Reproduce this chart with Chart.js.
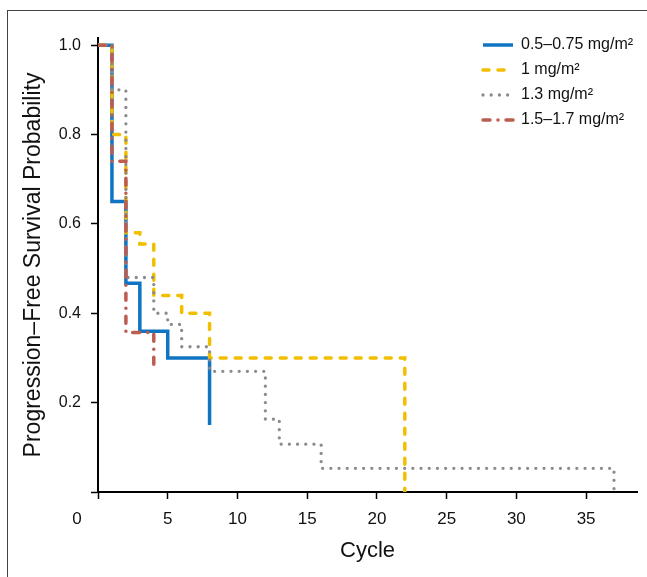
<!DOCTYPE html>
<html>
<head>
<meta charset="utf-8">
<script src="https://cdn.jsdelivr.net/npm/chart.js@4.4.1/dist/chart.umd.min.js"></script>
<style>
  html, body { margin: 0; padding: 0; background: #fff; overflow: hidden; }
  #frame { position: absolute; left: 7px; top: 10px; width: 800px; height: 700px; border-left: 1.5px solid #444; border-top: 1.5px solid #444; }
  #wrap { position: absolute; left: 0; top: 0; width: 647px; height: 577px; }
</style>
</head>
<body>
<div id="frame"></div>
<div id="wrap"><canvas id="pfsChart" width="647" height="577"></canvas></div>
<script>
// Kaplan-Meier steps: cycle of each drop and survival after it
const doseLabels = ["0.5\u20130.75 mg/m\u00b2", "1 mg/m\u00b2", "1.3 mg/m\u00b2", "1.5\u20131.7 mg/m\u00b2"];

const lowCycles = [0, 1, 2, 3, 5, 8];
const lowSurvival = [1.0, 0.65, 0.467, 0.36, 0.30, 0.15];

const oneCycles = [0, 1, 2, 3, 4, 6, 8, 22];
const oneSurvival = [1.0, 0.80, 0.58, 0.555, 0.44, 0.40, 0.30, 0];

const midCycles = [0, 1, 2, 4, 5, 6, 8, 12, 13, 16, 37];
const midSurvival = [1.0, 0.90, 0.48, 0.40, 0.375, 0.325, 0.27, 0.163, 0.107, 0.053, 0];

const highCycles = [0, 1, 2, 4];
const highSurvival = [1.0, 0.74, 0.357, 0.27];

const xTicks = [0, 5, 10, 15, 20, 25, 30, 35];
const yTicks = [0, 0.2, 0.4, 0.6, 0.8, 1.0];

function toPoints(cycles, values) {
  return cycles.map((c, i) => ({ x: c, y: values[i] }));
}

const FONT = '"Liberation Sans", Arial, sans-serif';

// moves the legend to the top right corner and writes the shared origin "0"
const cornerPlugin = {
  id: 'cornerPlugin',
  afterLayout(chart) {
    const lg = chart.legend;
    lg.left = 474;
    lg.top = 28;
    lg.right = 647;
    lg.bottom = 170;
  },
  afterDraw(chart) {
    const { ctx, chartArea } = chart;
    ctx.save();
    ctx.font = '17px ' + FONT;
    ctx.fillStyle = '#111';
    ctx.textAlign = 'center';
    ctx.textBaseline = 'middle';
    ctx.fillText('0', chartArea.left - 21, chartArea.bottom + 27);
    ctx.restore();
  }
};

const ctx = document.getElementById('pfsChart');
new Chart(ctx, {
  type: 'line',
  data: {
    datasets: [{
      label: doseLabels[0],
      data: toPoints(lowCycles, lowSurvival),
      borderColor: '#0f74c1',
      backgroundColor: '#0f74c1',
      borderWidth: 3.5,
      order: 3
    }, {
      label: doseLabels[1],
      data: toPoints(oneCycles, oneSurvival),
      borderColor: '#f2bf00',
      backgroundColor: '#f2bf00',
      borderWidth: 3.5,
      borderDash: [6, 9],
      borderCapStyle: 'round',
      order: 2
    }, {
      label: doseLabels[2],
      data: toPoints(midCycles, midSurvival),
      borderColor: '#8b8b8b',
      backgroundColor: '#8b8b8b',
      borderWidth: 3.3,
      borderDash: [0, 8.2],
      borderCapStyle: 'round',
      order: 1
    }, {
      label: doseLabels[3],
      data: toPoints(highCycles, highSurvival),
      borderColor: '#bd5c50',
      backgroundColor: '#bd5c50',
      borderWidth: 3.5,
      borderDash: [7, 8, 0, 8],
      borderCapStyle: 'round',
      order: 0
    }]
  },
  options: {
    responsive: false,
    animation: false,
    elements: {
      point: { radius: 0 },
      line: { stepped: 'before', tension: 0, fill: false }
    },
    layout: { padding: { left: 0, top: 38, right: 10, bottom: 0 } },
    plugins: {
      tooltip: { enabled: false },
      legend: {
        position: 'chartArea',
        align: 'start',
        labels: {
          usePointStyle: true,
          pointStyle: 'line',
          pointStyleWidth: 30,
          padding: 9,
          color: '#111',
          font: { family: FONT, size: 16 },
          sort: (a, b) => a.datasetIndex - b.datasetIndex,
          generateLabels: chart => {
            const items = Chart.defaults.plugins.legend.labels.generateLabels(chart);
            items.forEach(it => {
              const ds = chart.data.datasets[it.datasetIndex];
              it.lineDash = ds.borderDash || [];
              it.lineCap = ds.borderCapStyle || 'butt';
              it.lineWidth = ds.borderWidth;
              it.strokeStyle = ds.borderColor;
              it.pointStyle = 'line';
            });
            return items;
          }
        }
      }
    },
    scales: {
      x: {
        type: 'linear',
        min: 0,
        max: 38.65,
        afterBuildTicks: s => { s.ticks = xTicks.map(v => ({ value: v })); },
        afterFit: s => { s.height = 85; },
        grid: { display: true, drawOnChartArea: false, drawTicks: true, tickLength: 7, tickColor: '#000', tickWidth: 1.5 },
        border: { color: '#000', width: 2 },
        ticks: {
          autoSkip: false,
          maxRotation: 0,
          padding: 10,
          color: '#111',
          font: { family: FONT, size: 17 },
          callback: v => (v === 0 ? '' : v)
        },
        title: {
          display: true,
          text: 'Cycle',
          color: '#111',
          font: { family: FONT, size: 22 },
          padding: { top: 0, bottom: 13 }
        }
      },
      y: {
        min: 0,
        max: 1.016,
        afterBuildTicks: s => { s.ticks = yTicks.map(v => ({ value: v })); },
        afterFit: s => { s.width = 98; },
        grid: { display: true, drawOnChartArea: false, drawTicks: true, tickLength: 7, tickColor: '#000', tickWidth: 1.5 },
        border: { color: '#000', width: 2 },
        ticks: {
          padding: 10,
          color: '#111',
          font: { family: FONT, size: 16 },
          callback: v => (v === 0 ? '' : v.toFixed(1))
        },
        title: {
          display: true,
          text: 'Progression\u2013Free Survival Probability',
          color: '#111',
          font: { family: FONT, size: 23 },
          padding: { top: 20, bottom: 0 }
        }
      }
    }
  },
  plugins: [cornerPlugin]
});
</script>
</body>
</html>
